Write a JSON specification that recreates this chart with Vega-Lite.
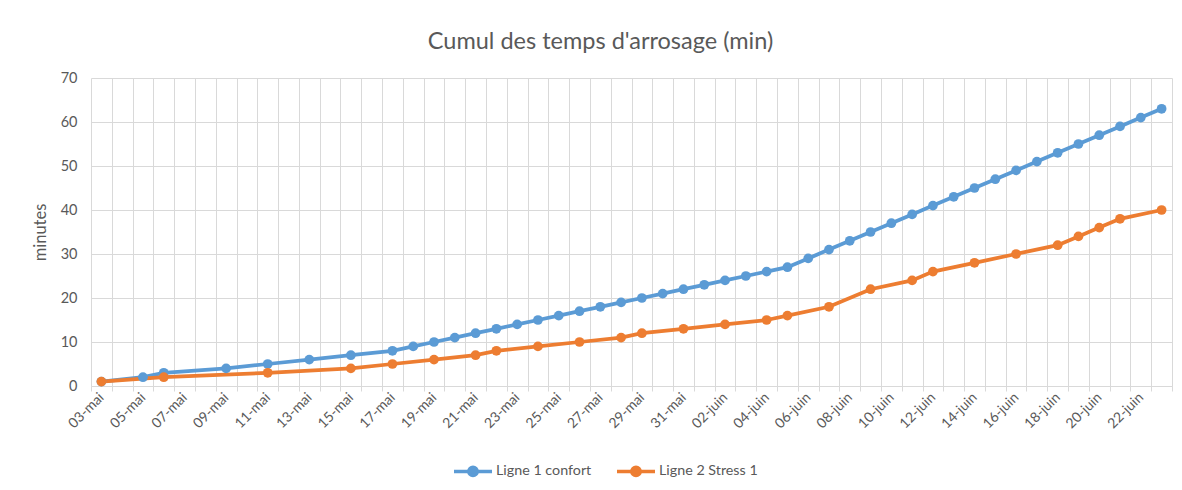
{
  "$schema": "https://vega.github.io/schema/vega-lite/v6.json",
  "width": 1081,
  "height": 308,
  "autosize": {"type": "none"},
  "padding": {"left": 91, "top": 78, "right": 10, "bottom": 104},
  "background": "white",
  "title": {"text": "Cumul des temps d'arrosage (min)", "fontSize": 23.5, "font": "Lato", "fontWeight": "normal", "color": "#595959", "offset": 17, "anchor": "middle", "dx": -31},
  "config": {"view": {"stroke": null}, "font": "Lato"},
  "data": {"values": [
    {"d": "2023-05-03", "s": "Ligne 1 confort", "v": 1},
    {"d": "2023-05-05", "s": "Ligne 1 confort", "v": 2},
    {"d": "2023-05-06", "s": "Ligne 1 confort", "v": 3},
    {"d": "2023-05-09", "s": "Ligne 1 confort", "v": 4},
    {"d": "2023-05-11", "s": "Ligne 1 confort", "v": 5},
    {"d": "2023-05-13", "s": "Ligne 1 confort", "v": 6},
    {"d": "2023-05-15", "s": "Ligne 1 confort", "v": 7},
    {"d": "2023-05-17", "s": "Ligne 1 confort", "v": 8},
    {"d": "2023-05-18", "s": "Ligne 1 confort", "v": 9},
    {"d": "2023-05-19", "s": "Ligne 1 confort", "v": 10},
    {"d": "2023-05-20", "s": "Ligne 1 confort", "v": 11},
    {"d": "2023-05-21", "s": "Ligne 1 confort", "v": 12},
    {"d": "2023-05-22", "s": "Ligne 1 confort", "v": 13},
    {"d": "2023-05-23", "s": "Ligne 1 confort", "v": 14},
    {"d": "2023-05-24", "s": "Ligne 1 confort", "v": 15},
    {"d": "2023-05-25", "s": "Ligne 1 confort", "v": 16},
    {"d": "2023-05-26", "s": "Ligne 1 confort", "v": 17},
    {"d": "2023-05-27", "s": "Ligne 1 confort", "v": 18},
    {"d": "2023-05-28", "s": "Ligne 1 confort", "v": 19},
    {"d": "2023-05-29", "s": "Ligne 1 confort", "v": 20},
    {"d": "2023-05-30", "s": "Ligne 1 confort", "v": 21},
    {"d": "2023-05-31", "s": "Ligne 1 confort", "v": 22},
    {"d": "2023-06-01", "s": "Ligne 1 confort", "v": 23},
    {"d": "2023-06-02", "s": "Ligne 1 confort", "v": 24},
    {"d": "2023-06-03", "s": "Ligne 1 confort", "v": 25},
    {"d": "2023-06-04", "s": "Ligne 1 confort", "v": 26},
    {"d": "2023-06-05", "s": "Ligne 1 confort", "v": 27},
    {"d": "2023-06-06", "s": "Ligne 1 confort", "v": 29},
    {"d": "2023-06-07", "s": "Ligne 1 confort", "v": 31},
    {"d": "2023-06-08", "s": "Ligne 1 confort", "v": 33},
    {"d": "2023-06-09", "s": "Ligne 1 confort", "v": 35},
    {"d": "2023-06-10", "s": "Ligne 1 confort", "v": 37},
    {"d": "2023-06-11", "s": "Ligne 1 confort", "v": 39},
    {"d": "2023-06-12", "s": "Ligne 1 confort", "v": 41},
    {"d": "2023-06-13", "s": "Ligne 1 confort", "v": 43},
    {"d": "2023-06-14", "s": "Ligne 1 confort", "v": 45},
    {"d": "2023-06-15", "s": "Ligne 1 confort", "v": 47},
    {"d": "2023-06-16", "s": "Ligne 1 confort", "v": 49},
    {"d": "2023-06-17", "s": "Ligne 1 confort", "v": 51},
    {"d": "2023-06-18", "s": "Ligne 1 confort", "v": 53},
    {"d": "2023-06-19", "s": "Ligne 1 confort", "v": 55},
    {"d": "2023-06-20", "s": "Ligne 1 confort", "v": 57},
    {"d": "2023-06-21", "s": "Ligne 1 confort", "v": 59},
    {"d": "2023-06-22", "s": "Ligne 1 confort", "v": 61},
    {"d": "2023-06-23", "s": "Ligne 1 confort", "v": 63},
    {"d": "2023-05-03", "s": "Ligne 2 Stress 1", "v": 1},
    {"d": "2023-05-06", "s": "Ligne 2 Stress 1", "v": 2},
    {"d": "2023-05-11", "s": "Ligne 2 Stress 1", "v": 3},
    {"d": "2023-05-15", "s": "Ligne 2 Stress 1", "v": 4},
    {"d": "2023-05-17", "s": "Ligne 2 Stress 1", "v": 5},
    {"d": "2023-05-19", "s": "Ligne 2 Stress 1", "v": 6},
    {"d": "2023-05-21", "s": "Ligne 2 Stress 1", "v": 7},
    {"d": "2023-05-22", "s": "Ligne 2 Stress 1", "v": 8},
    {"d": "2023-05-24", "s": "Ligne 2 Stress 1", "v": 9},
    {"d": "2023-05-26", "s": "Ligne 2 Stress 1", "v": 10},
    {"d": "2023-05-28", "s": "Ligne 2 Stress 1", "v": 11},
    {"d": "2023-05-29", "s": "Ligne 2 Stress 1", "v": 12},
    {"d": "2023-05-31", "s": "Ligne 2 Stress 1", "v": 13},
    {"d": "2023-06-02", "s": "Ligne 2 Stress 1", "v": 14},
    {"d": "2023-06-04", "s": "Ligne 2 Stress 1", "v": 15},
    {"d": "2023-06-05", "s": "Ligne 2 Stress 1", "v": 16},
    {"d": "2023-06-07", "s": "Ligne 2 Stress 1", "v": 18},
    {"d": "2023-06-09", "s": "Ligne 2 Stress 1", "v": 22},
    {"d": "2023-06-11", "s": "Ligne 2 Stress 1", "v": 24},
    {"d": "2023-06-12", "s": "Ligne 2 Stress 1", "v": 26},
    {"d": "2023-06-14", "s": "Ligne 2 Stress 1", "v": 28},
    {"d": "2023-06-16", "s": "Ligne 2 Stress 1", "v": 30},
    {"d": "2023-06-18", "s": "Ligne 2 Stress 1", "v": 32},
    {"d": "2023-06-19", "s": "Ligne 2 Stress 1", "v": 34},
    {"d": "2023-06-20", "s": "Ligne 2 Stress 1", "v": 36},
    {"d": "2023-06-21", "s": "Ligne 2 Stress 1", "v": 38},
    {"d": "2023-06-23", "s": "Ligne 2 Stress 1", "v": 40}
  ]},
  "mark": {"type": "line", "strokeWidth": 3.75, "point": {"filled": true, "size": 95}},
  "encoding": {
    "x": {
      "field": "d", "type": "temporal", "timeUnit": "utcyearmonthdate", "bandPosition": 0.5,
      "title": null,
      "scale": {"type": "utc", "domain": [{"year": 2023, "month": 5, "date": 3, "utc": true}, {"year": 2023, "month": 6, "date": 24, "utc": true}]},
      "axis": {
        "tickCount": {"interval": "day", "step": 1},
        "labelExpr": "(round((datum.value - utc(2023,4,3))/864e5) % 2 == 0 && datum.value < utc(2023,5,23)) ? utcFormat(datum.value, '%d') + '-' + (utcmonth(datum.value) == 4 ? 'mai' : 'juin') : ''",
        "labelOffset": 10.4,
        "labelAngle": -45,
        "labelAlign": "right",
        "labelBaseline": "middle",
        "labelOverlap": false,
        "labelFlush": false,
        "labelBound": false,
        "labelFontSize": 14,
        "labelColor": "#595959",
        "labelPadding": 4,
        "grid": true,
        "gridColor": "#d9d9d9",
        "gridWidth": 1,
        "domainColor": "#d9d9d9",
        "domainWidth": 1,
        "tickColor": "#d9d9d9",
        "tickSize": 5
      }
    },
    "y": {
      "field": "v", "type": "quantitative",
      "scale": {"domain": [0, 70], "nice": false},
      "axis": {
        "values": [0, 10, 20, 30, 40, 50, 60, 70],
        "title": "minutes",
        "titleFontSize": 16.5,
        "titleFontWeight": "normal",
        "titleColor": "#595959",
        "titlePadding": 12,
        "labelFontSize": 14.5,
        "labelColor": "#595959",
        "labelPadding": 14,
        "ticks": false,
        "domain": false,
        "gridColor": "#d9d9d9",
        "gridWidth": 1
      }
    },
    "color": {
      "field": "s", "type": "nominal",
      "scale": {"domain": ["Ligne 1 confort", "Ligne 2 Stress 1"], "range": ["#5B9BD5", "#ED7D31"]},
      "legend": {
        "orient": "none",
        "legendX": 361,
        "legendY": 372,
        "direction": "horizontal",
        "title": null,
        "symbolType": "M-1,0L1,0M0.22,0A0.22,0.22,0,1,1,-0.22,0A0.22,0.22,0,1,1,0.22,0",
        "symbolSize": 1444,
        "symbolStrokeWidth": 3.5,
        "labelFontSize": 14.3,
        "labelColor": "#595959",
        "labelOffset": 2,
        "columnPadding": 18,
        "encode": {"symbols": {"update": {"fill": {"scale": "color", "field": "value"}, "stroke": {"scale": "color", "field": "value"}}}}
      }
    }
  }
}
